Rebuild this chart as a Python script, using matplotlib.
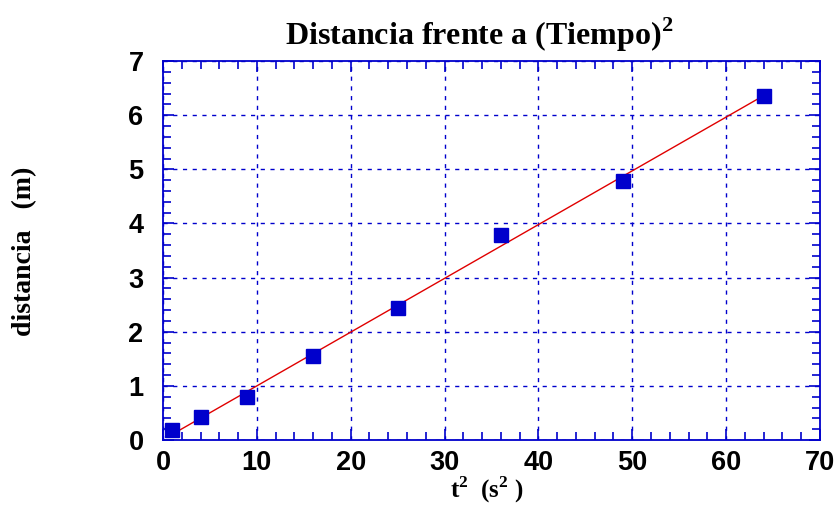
import numpy as np
import matplotlib.pyplot as plt
from matplotlib.ticker import MultipleLocator

plt.rcParams["mathtext.fontset"] = "custom"
plt.rcParams["mathtext.bf"] = "Liberation Serif:bold"
plt.rcParams["mathtext.rm"] = "Liberation Serif:bold"

# t^2 (s^2) and distancia (m)
t2 = [1, 4, 9, 16, 25, 36, 49, 64]
dist = [0.18, 0.42, 0.79, 1.55, 2.44, 3.79, 4.78, 6.36]

xticks = [0, 10, 20, 30, 40, 50, 60, 70]
yticks = [0, 1, 2, 3, 4, 5, 6, 7]

blue = "#0000CC"
serif = "Liberation Serif"
sans = "Liberation Sans"

fig = plt.figure(figsize=(8.35, 5.09), dpi=100)
ax = fig.add_axes([0.1952, 0.1356, 0.7868, 0.7444])

# linear fit
slope, icpt = np.polyfit(t2, dist, 1)
xf = np.array([t2[0], t2[-1]])
ax.plot(xf, slope * xf + icpt, color="#E00000", lw=1, zorder=3)

ax.plot(t2, dist, "s", color=blue, markersize=9.5, zorder=4)

ax.set_xlim(0, 70)
ax.set_ylim(0, 7)
ax.set_xticks(xticks)
ax.set_yticks(yticks)
ax.xaxis.set_minor_locator(MultipleLocator(2))
ax.yaxis.set_minor_locator(MultipleLocator(0.2))

ax.grid(True, which="major", color=blue, linestyle=(0, (3, 4)), lw=1)
for s in ax.spines.values():
    s.set_color(blue)
    s.set_linewidth(1.3)

ax.tick_params(which="both", direction="in", top=True, right=True, color=blue)
ax.tick_params(which="major", length=8, width=1.2)
ax.tick_params(which="minor", length=6, width=1.2)
ax.tick_params(axis="y", which="major", pad=14)
ax.tick_params(axis="x", which="major", pad=7)
for lbl in ax.get_xticklabels() + ax.get_yticklabels():
    lbl.set_fontfamily(sans)
    lbl.set_fontweight("bold")
    lbl.set_fontsize(19.5)

fig.text(0.574, 0.912, "Distancia frente a (Tiempo)$^{\\mathbf{2}}$",
         fontfamily=serif, fontweight="bold", fontsize=23,
         ha="center", va="baseline")
fig.text(0.583, 0.022, "t$^{\\mathbf{2}}$  (s$^{\\mathbf{2}}$ )",
         fontfamily=serif, fontweight="bold", fontsize=18,
         ha="center", va="baseline")
fig.text(0.03, 0.507, "distancia   (m)", fontfamily=serif, fontweight="bold",
         fontsize=20, rotation=90, ha="center", va="center")

fig.savefig("out.png", dpi=100)
